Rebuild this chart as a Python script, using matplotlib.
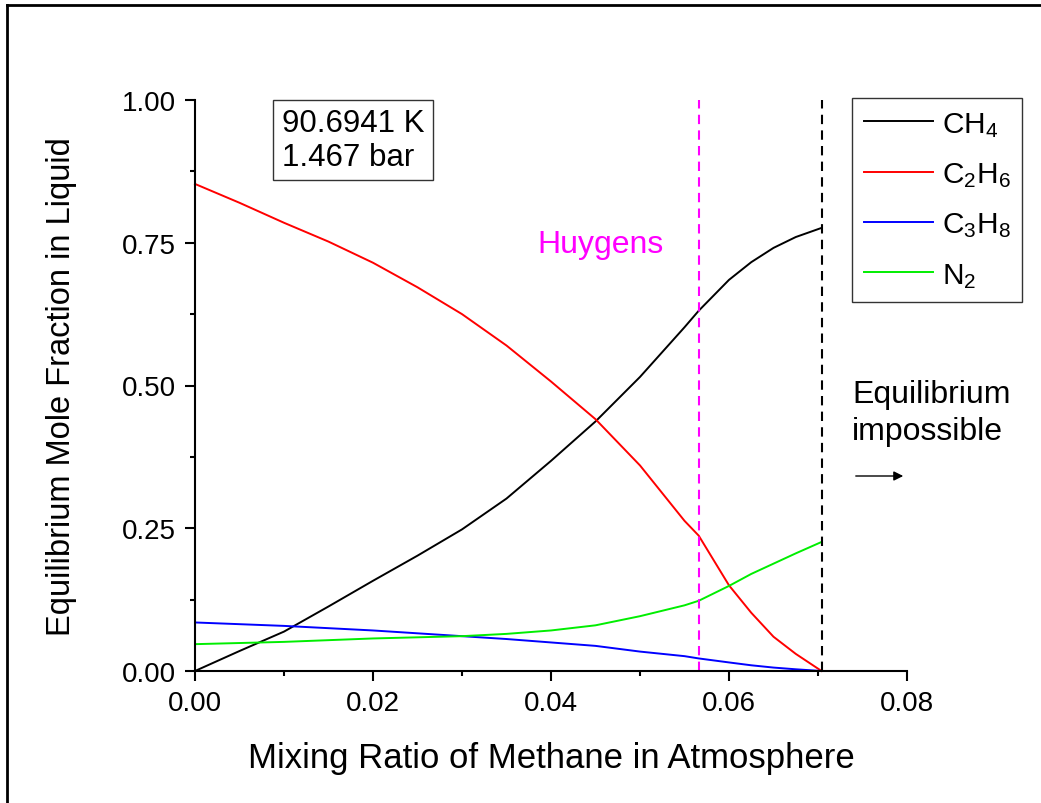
import matplotlib
matplotlib.use("Agg")
import matplotlib.pyplot as plt
from matplotlib.ticker import MultipleLocator, FormatStrFormatter
from matplotlib.lines import Line2D

plt.rcParams['font.family'] = ['Liberation Sans', 'DejaVu Sans']
plt.rcParams['mathtext.fontset'] = 'custom'
plt.rcParams['mathtext.rm'] = 'Liberation Sans'
plt.rcParams['mathtext.it'] = 'Liberation Sans'

# Data
mix_ratio = [0.0, 0.005, 0.01, 0.015, 0.02, 0.025, 0.03, 0.035, 0.04, 0.045,
             0.05, 0.055, 0.0566, 0.06, 0.0625, 0.065, 0.0675, 0.0704]
ch4 = [0.0, 0.035, 0.069, 0.113, 0.158, 0.202, 0.248, 0.302, 0.368, 0.437,
       0.515, 0.602, 0.631, 0.685, 0.716, 0.741, 0.760, 0.776]
c2h6 = [0.853, 0.820, 0.785, 0.752, 0.715, 0.672, 0.625, 0.570, 0.507, 0.441,
        0.360, 0.263, 0.237, 0.150, 0.102, 0.060, 0.030, 0.0]
c3h8 = [0.085, 0.082, 0.079, 0.075, 0.071, 0.066, 0.061, 0.056, 0.050, 0.044,
        0.034, 0.026, 0.022, 0.015, 0.010, 0.006, 0.003, 0.0]
n2 = [0.047, 0.049, 0.051, 0.054, 0.057, 0.059, 0.061, 0.065, 0.071, 0.080,
      0.096, 0.115, 0.123, 0.149, 0.170, 0.188, 0.206, 0.226]
series_labels = ['CH$_4$', 'C$_2$H$_6$', 'C$_3$H$_8$', 'N$_2$']
series_colors = ['black', '#ff0000', '#0000ff', '#00ee00']
huygens_x = 0.0566
limit_x = 0.0704
x_ticks = [0.00, 0.02, 0.04, 0.06, 0.08]
y_ticks = [0.00, 0.25, 0.50, 0.75, 1.00]

W, H = 1041, 804
fig = plt.figure(figsize=(W / 100, H / 100), dpi=100)
ax = fig.add_axes([195 / W, 1 - 672 / H, 712 / W, 571 / H])

for ys, lab, col in zip([ch4, c2h6, c3h8, n2], series_labels, series_colors):
    ax.plot(mix_ratio, ys, color=col, lw=1.4, label=lab, clip_on=False,
            solid_joinstyle='round')

ax.axvline(huygens_x, color='#ff00ff', lw=1.5, ls=(0, (4.5, 3)))
ax.axvline(limit_x, color='black', lw=1.5, ls=(0, (4.5, 3)))

ax.set_xlim(0, 0.08)
ax.set_ylim(0, 1.0)
ax.set_xticks(x_ticks)
ax.set_yticks(y_ticks)
ax.xaxis.set_major_formatter(FormatStrFormatter('%.2f'))
ax.yaxis.set_major_formatter(FormatStrFormatter('%.2f'))
ax.xaxis.set_minor_locator(MultipleLocator(0.01))
ax.yaxis.set_minor_locator(MultipleLocator(0.125))
ax.tick_params(which='major', direction='out', length=7, width=1.5, labelsize=20, pad=7)
ax.tick_params(which='minor', direction='out', length=3.5, width=1.5)
for s in ['top', 'right']:
    ax.spines[s].set_visible(False)
for s in ['left', 'bottom']:
    ax.spines[s].set_linewidth(1.5)

ax.set_xlabel('Mixing Ratio of Methane in Atmosphere', fontsize=25, labelpad=18)
ax.set_ylabel('Equilibrium Mole Fraction in Liquid', fontsize=23.5, labelpad=32)

leg = ax.legend(loc='upper left', bbox_to_anchor=((852 - 195) / 712, (672 - 99) / 571),
                borderaxespad=0, fontsize=21.5, handlelength=2.3, handletextpad=0.3,
                labelspacing=0.72, borderpad=0.4, fancybox=False, framealpha=1)
leg.get_frame().set_edgecolor('#333333')
leg.get_frame().set_linewidth(1.0)

def px(x, y):
    return x / W, 1 - y / H

fig.text(*px(353, 141), '90.6941 K\n1.467 bar', fontsize=22.5, ha='center', va='center',
         multialignment='left', linespacing=1.15,
         bbox=dict(boxstyle='square,pad=0.28', fc='white', ec='#333333', lw=1.0))
fig.text(*px(600, 253), 'Huygens', fontsize=23, color='#ff00ff', ha='center', va='baseline')
fig.text(*px(852, 403), 'Equilibrium', fontsize=23, ha='left', va='baseline')
fig.text(*px(852, 440), 'impossible', fontsize=23, ha='left', va='baseline')
ax.annotate('', xy=px(906, 477), xytext=px(853, 477), xycoords='figure fraction',
            textcoords='figure fraction',
            arrowprops=dict(arrowstyle='-|>', color='black', lw=1.0, mutation_scale=14))

# outer frame (left and top edges visible)
fig.add_artist(Line2D([7 / W, 7 / W], [0, 1 - 6 / H], transform=fig.transFigure, color='black', lw=2))
fig.add_artist(Line2D([7 / W, 1], [1 - 6 / H, 1 - 6 / H], transform=fig.transFigure, color='black', lw=2))

fig.savefig('out.png', dpi=100)
